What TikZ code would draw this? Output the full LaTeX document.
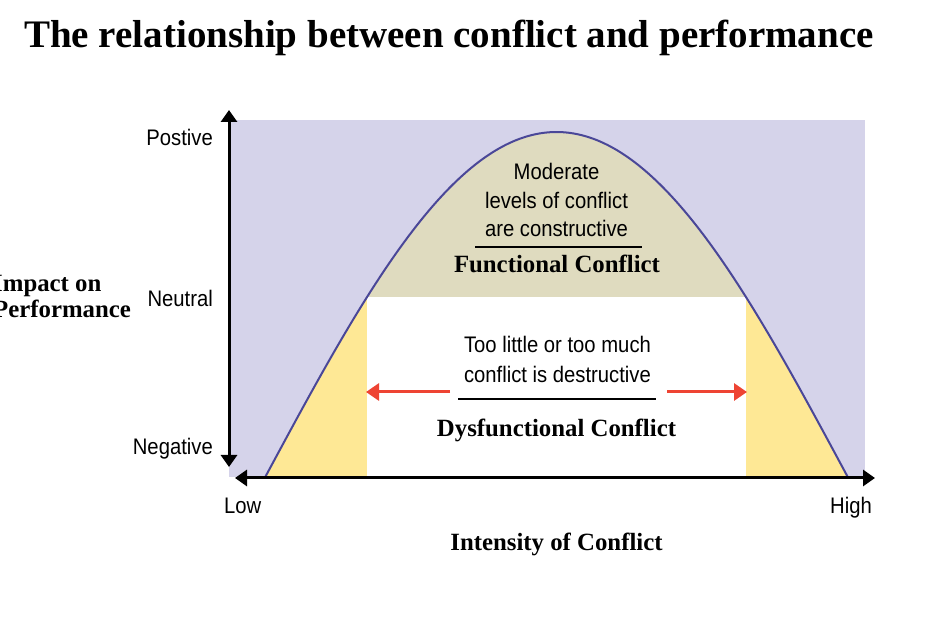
\documentclass[tikz,border=0pt]{standalone}
\usepackage{fontspec}
\setmainfont{Liberation Serif}
\newfontfamily\nsans[FakeStretch=0.9]{Liberation Sans}
\usetikzlibrary{arrows.meta}
\definecolor{lav}{HTML}{D5D3EA}
\definecolor{tanfill}{HTML}{DFDBBF}
\definecolor{yel}{HTML}{FEE895}
\definecolor{curvecol}{HTML}{4A4798}
\definecolor{arrred}{HTML}{EE4433}
\begin{document}
\begin{tikzpicture}[x=1pt,y=-1pt,
  axlab/.style={font=\nsans\fontsize{22.5}{27}\selectfont, inner sep=0pt},
  boldlab/.style={font=\bfseries\fontsize{24.8}{27}\selectfont, inner sep=0pt},
  axisline/.style={line width=3pt, black, -{Triangle[length=12pt,width=16pt]}},
  redarrow/.style={line width=3pt, arrred, -{Triangle[length=13pt,width=17pt]}},
  rulel/.style={line width=1.5pt, black}]
\useasboundingbox (0,0) rectangle (930,620);
\fill[white] (0,0) rectangle (930,620);
\def\curvepath{plot[domain=-291:291, samples=120, smooth] ({556.5+\x}, {476.5-344.5*cos(\x*0.3093)})}
% background
\fill[lav] (229,120) rectangle (865,477);
\fill[yel] \curvepath -- cycle;
\begin{scope}
  \clip (0,0) rectangle (930,297);
  \fill[tanfill] \curvepath -- cycle;
\end{scope}
\fill[white] (366.5,297) rectangle (746,477);
\draw[curvecol, line width=2pt] \curvepath;
% axes
\coordinate (ybot) at (229,467);
\coordinate (ymid) at (229,300);
\coordinate (ytop) at (229,110);
\coordinate (xleft) at (235,478);
\coordinate (xmid) at (555,478);
\coordinate (xright) at (875,478);
\draw[axisline] (ymid) -- (ytop);
\draw[axisline] (ymid) -- (ybot);
\draw[axisline] (xmid) -- (xright);
\draw[axisline] (xmid) -- (xleft);
% title
\node[anchor=base west, inner sep=0pt, font=\bfseries\fontsize{39}{44}\selectfont] (title) at (24,48) {The relationship between conflict and performance};
% axis labels
\node[axlab, anchor=base east] (pos) at (213,146) {Postive};
\node[axlab, anchor=base east] (neu) at (213,307) {Neutral};
\node[axlab, anchor=base east] (neg) at (213,455) {Negative};
\node[axlab, anchor=base west] (low) at (224,513) {Low};
\node[axlab, anchor=base east] (high) at (872,513) {High};
\node[boldlab, anchor=base west] (imp1) at (-7,292) {Impact on};
\node[boldlab, anchor=base west] (imp2) at (-7,318) {Performance};
\node[boldlab, anchor=base] (intens) at (556.5,550) {Intensity of Conflict};
% functional
\node[axlab, anchor=base] (m1) at (556.5,180) {Moderate};
\node[axlab, anchor=base] (m2) at (556.5,209) {levels of conflict};
\node[axlab, anchor=base] (m3) at (556.5,237) {are constructive};
\coordinate (r1a) at (475,247);
\coordinate (r1b) at (642,247);
\draw[rulel] (r1a) -- (r1b);
\node[boldlab, anchor=base] (func) at (557,273) {Functional Conflict};
% dysfunctional
\node[axlab, anchor=base] (d1) at (557.5,353) {Too little or too much};
\node[axlab, anchor=base] (d2) at (557.5,383) {conflict is destructive};
\coordinate (r2a) at (458,399);
\coordinate (r2b) at (656,399);
\draw[rulel] (r2a) -- (r2b);
\node[boldlab, anchor=base] (dysf) at (556.5,437) {Dysfunctional Conflict};
\coordinate (la1) at (450,392);
\coordinate (la2) at (366,392);
\coordinate (ra1) at (667,392);
\coordinate (ra2) at (747,392);
\draw[redarrow] (la1) -- (la2);
\draw[redarrow] (ra1) -- (ra2);
\end{tikzpicture}
\end{document}
